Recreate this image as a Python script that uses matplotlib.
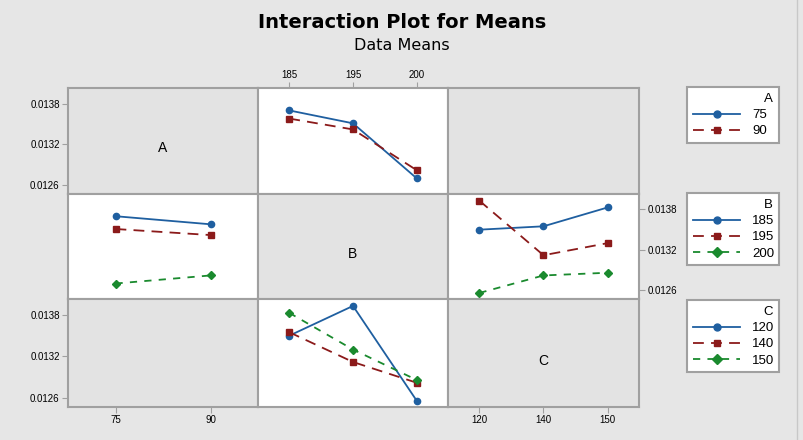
import numpy as np
import matplotlib
matplotlib.use("Agg")
import matplotlib.pyplot as plt
from matplotlib.lines import Line2D

plt.rcParams['font.family'] = ['Liberation Sans', 'DejaVu Sans']

# Níveis dos fatores
a_levels = ['75', '90']
b_levels = ['185', '195', '200']
c_levels = ['120', '140', '150']

# Médias A x B (linhas = A, colunas = B)
ab_means = np.array([[0.01370, 0.01351, 0.01270],
                     [0.01358, 0.01342, 0.01282]])
# Médias B x C (linhas = B, colunas = C)
bc_means = np.array([[0.01350, 0.01355, 0.01383],
                     [0.01393, 0.01312, 0.01330],
                     [0.01256, 0.01282, 0.01286]])

y_ticks = [0.0126, 0.0132, 0.0138]

# Estilos das séries
cores = ['#1f5fa0', '#8b1a1a', '#1a8a2e']
marcadores = ['o', 's', 'D']
estilos = ['-', (0, (6, 4)), (0, (4, 4))]

W, H = 804, 440
fig = plt.figure(figsize=(W / 100, H / 100), dpi=100)
fig.patch.set_facecolor('#e6e6e6')

fig.text(0.5, 1 - 22 / H, 'Interaction Plot for Means', ha='center', va='center',
         fontsize=14, fontweight='bold', family='DejaVu Sans')
fig.text(0.5, 1 - 46 / H, 'Data Means', ha='center', va='center', fontsize=11.5,
         family='DejaVu Sans')

xs = [68, 258, 448, 639]
ys = [88, 194, 299, 407]
fatores = ['A', 'B', 'C']
niveis = [a_levels, b_levels, c_levels]

axes = {}
for r in range(3):
    for c in range(3):
        ax = fig.add_axes([xs[c] / W, 1 - ys[r + 1] / H,
                           (xs[c + 1] - xs[c]) / W, (ys[r + 1] - ys[r]) / H])
        ax.set_ylim(0.01247, 0.01403)
        n = len(niveis[c])
        if n == 2:
            ax.set_xlim(-0.5, 1.5)
        else:
            ax.set_xlim(-0.49, 2.49)
        for s in ax.spines.values():
            s.set_color('#a0a0a0')
            s.set_linewidth(1.5)
        ax.set_xticks([])
        ax.set_yticks([])
        ax.set_facecolor('white' if (r, c) in [(0, 1), (1, 0), (1, 2), (2, 1)] else '#e3e3e3')
        axes[(r, c)] = ax

# Diagonal com nomes dos fatores
for i, f in enumerate(fatores):
    axes[(i, i)].text(0.5, 0.43, f, transform=axes[(i, i)].transAxes,
                      ha='center', va='center', fontsize=10)

def linha(ax, x, y, k):
    ax.plot(x, y, color=cores[k], marker=marcadores[k], linestyle=estilos[k],
            linewidth=1.3, markersize=4.5)

# Linha A, coluna B: traço = A, eixo = B
for k in range(2):
    linha(axes[(0, 1)], range(3), ab_means[k], k)
# Linha B, coluna A: traço = B, eixo = A
for k in range(3):
    linha(axes[(1, 0)], range(2), ab_means[:, k], k)
# Linha B, coluna C: traço = B, eixo = C
for k in range(3):
    linha(axes[(1, 2)], range(3), bc_means[k], k)
# Linha C, coluna B: traço = C, eixo = B
for k in range(3):
    linha(axes[(2, 1)], range(3), bc_means[:, k], k)

lbl = [f'{v:.4f}' for v in y_ticks]
for (r, c), lado in [((0, 0), 'left'), ((2, 0), 'left'), ((1, 2), 'right')]:
    ax = axes[(r, c)]
    ax.set_yticks(y_ticks, lbl)
    if lado == 'right':
        ax.yaxis.tick_right()
    ax.tick_params(axis='y', labelsize=7, length=4, color='#a0a0a0', pad=2)

for (r, c), lado in [((0, 1), 'top'), ((2, 0), 'bottom'), ((2, 2), 'bottom')]:
    ax = axes[(r, c)]
    ax.set_xticks(range(len(niveis[c])), niveis[c])
    if lado == 'top':
        ax.xaxis.tick_top()
    ax.tick_params(axis='x', labelsize=7, length=4, color='#a0a0a0', pad=2)

# Legendas (largura fixa de ~92 px)
def legenda(titulo, labels, n, topo):
    handles = [Line2D([], [], color=cores[k], marker=marcadores[k], linestyle=estilos[k],
                      linewidth=1.3, markersize=5) for k in range(n)]
    leg = fig.legend(handles, labels, title=titulo, loc='upper left',
                     bbox_to_anchor=(687 / W, 1 - topo / H - 0.01, 92 / W, 0.01),
                     mode='expand', fontsize=9.5, title_fontsize=9.5,
                     frameon=True, fancybox=False, edgecolor='#a0a0a0', facecolor='white',
                     framealpha=1, handlelength=3.6, alignment='right', borderpad=0.45,
                     labelspacing=0.3, handletextpad=0.9, borderaxespad=0)
    leg.get_frame().set_linewidth(1.5)
    return leg

legenda('A', a_levels, 2, 87)
legenda('B', b_levels, 3, 193)
legenda('C', c_levels, 3, 300)

fig.add_artist(Line2D([797 / W, 797 / W], [0, 1], color='#c8c8c8', linewidth=1))

fig.savefig('out.png', dpi=100, facecolor=fig.get_facecolor())
